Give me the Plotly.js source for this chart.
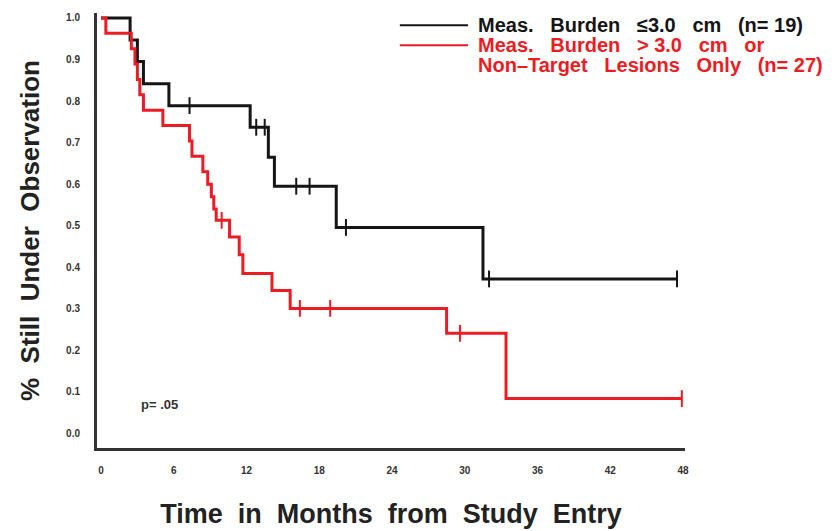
<!DOCTYPE html>
<html>
<head>
<meta charset="utf-8">
<script src="https://cdn.plot.ly/plotly-3.0.1.min.js"></script>
<style>html,body{margin:0;padding:0;background:#fff;}#chart{width:836px;height:531px;}</style>
</head>
<body>
<div id="chart"></div>
<script>
// Kaplan-Meier step data (months, proportion still under observation)
const blackTimes = [0, 2.4, 3.0, 3.5, 5.6, 12.3, 13.8, 14.3, 19.4, 31.5, 47.5];
const blackSurv  = [1.0, 0.947, 0.895, 0.842, 0.789, 0.737, 0.665, 0.595, 0.496, 0.372, 0.372];
const blackCensor = [7.3, 12.8, 13.5, 16.1, 17.2, 20.2, 32.0, 47.5];

const redTimes = [0, 0.4, 2.5, 2.8, 3.0, 3.2, 3.5, 5.1, 7.3, 7.5, 8.4, 8.8, 9.1, 9.3, 9.5, 10.6, 11.4, 11.7, 14.1, 15.6, 28.5, 33.4, 47.9];
const redSurv  = [1.0, 0.963, 0.926, 0.889, 0.852, 0.815, 0.778, 0.741, 0.704, 0.667, 0.630, 0.600, 0.570, 0.540, 0.513, 0.473, 0.430, 0.385, 0.344, 0.301, 0.241, 0.084, 0.084];
const redCensor = [9.95, 16.4, 18.9, 29.6, 47.9];

const xTickVals = [0, 6, 12, 18, 24, 30, 36, 42, 48];
const yTickVals = [0, 0.1, 0.2, 0.3, 0.4, 0.5, 0.6, 0.7, 0.8, 0.9, 1.0];

const SP = "\u00A0\u00A0 ";
const blackName = "Meas." + SP + "Burden" + SP + "\u22643.0" + SP + "cm" + SP + "(n=\u00A019)";
const redName1 = "Meas." + SP + "Burden" + SP + ">\u00A03.0" + SP + "cm" + SP + "or";
const redName2 = "Non\u2013Target" + SP + "Lesions" + SP + "Only" + SP + "(n=\u00A027)";

function stepAt(times, surv, t) {
  let v = surv[0];
  for (let i = 0; i < times.length; i++) { if (times[i] <= t) v = surv[i]; }
  return v;
}

const BLACK = '#151515';
const RED = '#ec1c24';
const FAM = 'Liberation Sans, Arial, sans-serif';

const traces = [
  {x: blackTimes, y: blackSurv, mode: 'lines', line: {shape: 'hv', color: BLACK, width: 3}, showlegend: false, hoverinfo: 'skip'},
  {x: blackCensor, y: blackCensor.map(t => stepAt(blackTimes, blackSurv, t)), mode: 'markers',
   marker: {symbol: 'line-ns', size: 12, line: {color: BLACK, width: 2}}, showlegend: false, hoverinfo: 'skip'},
  {x: redTimes, y: redSurv, mode: 'lines', line: {shape: 'hv', color: RED, width: 3}, showlegend: false, hoverinfo: 'skip'},
  {x: redCensor, y: redCensor.map(t => stepAt(redTimes, redSurv, t)), mode: 'markers',
   marker: {symbol: 'line-ns', size: 12, line: {color: RED, width: 2}}, showlegend: false, hoverinfo: 'skip'}
];

const tickFont = {family: FAM, size: 10, color: '#333', weight: 'bold'};
const legFont = {family: FAM, size: 20, color: BLACK, weight: 'bold'};

const layout = {
  width: 836, height: 531,
  margin: {l: 97, r: 151, t: 13, b: 83},
  paper_bgcolor: '#fff', plot_bgcolor: '#fff',
  xaxis: {
    range: [-0.33, 48.16], tickvals: xTickVals, ticktext: xTickVals.map(String),
    showgrid: false, zeroline: false, showline: true, linecolor: '#333', linewidth: 3,
    ticks: '', ticklabelstandoff: 11, tickfont: tickFont,
    title: {text: 'Time\u00A0 in\u00A0 Months\u00A0 from\u00A0 Study\u00A0 Entry', standoff: 30,
            font: {family: FAM, size: 27, color: '#222', weight: 'bold'}}
  },
  yaxis: {
    range: [-0.035, 1.012], tickvals: yTickVals, ticktext: yTickVals.map(v => v.toFixed(1)),
    showgrid: false, zeroline: false, showline: true, linecolor: '#333', linewidth: 3,
    ticks: '', ticklabelstandoff: 12, tickfont: tickFont,
    title: {text: '%\u00A0 Still\u00A0 Under\u00A0 Observation', standoff: 19,
            font: {family: FAM, size: 26, color: '#222', weight: 'bold'}}
  },
  shapes: [
    {type: 'line', xref: 'paper', yref: 'paper', x0: 0.515, x1: 0.631, y0: 0.972, y1: 0.972, line: {color: BLACK, width: 2}},
    {type: 'line', xref: 'paper', yref: 'paper', x0: 0.515, x1: 0.631, y0: 0.926, y1: 0.926, line: {color: RED, width: 2}}
  ],
  annotations: [
    {xref: 'paper', yref: 'paper', x: 0.645, y: 0.972, xanchor: 'left', yanchor: 'middle', showarrow: false,
     text: blackName, font: legFont},
    {xref: 'paper', yref: 'paper', x: 0.645, y: 0.926, xanchor: 'left', yanchor: 'middle', showarrow: false,
     text: redName1, font: Object.assign({}, legFont, {color: RED})},
    {xref: 'paper', yref: 'paper', x: 0.645, y: 0.880, xanchor: 'left', yanchor: 'middle', showarrow: false,
     text: redName2, font: Object.assign({}, legFont, {color: RED})},
    {xref: 'x', yref: 'y', x: 4.8, y: 0.07, xanchor: 'center', yanchor: 'middle', showarrow: false,
     text: 'p=\u00A0.05', font: {family: FAM, size: 13, color: '#333', weight: 'bold'}}
  ]
};

Plotly.newPlot('chart', traces, layout, {staticPlot: true, displayModeBar: false});
</script>
</body>
</html>
